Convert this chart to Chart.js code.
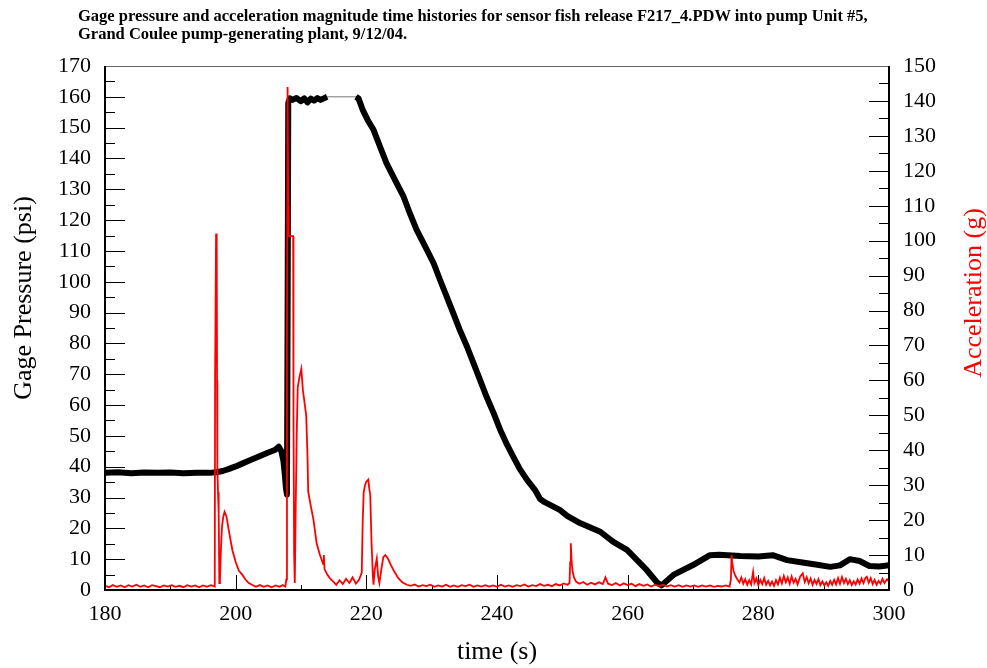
<!DOCTYPE html>
<html>
<head>
<meta charset="utf-8">
<script src="https://cdn.jsdelivr.net/npm/chart.js@4.4.1/dist/chart.umd.min.js"></script>
<style>
  body { margin: 0; background: #fff; }
  #wrap { position: relative; width: 987px; height: 668px; }
  #title {
    position: absolute; left: 78px; top: 7px;
    font: bold 16.5px 'Liberation Serif', 'Times New Roman', serif;
    line-height: 18px; color: #000; white-space: nowrap;
  }
</style>
</head>
<body>
<div id="wrap">
  <canvas id="chart" width="987" height="668"></canvas>
  <div id="title">Gage pressure and acceleration magnitude time histories for sensor fish release F217_4.PDW into pump Unit #5,<br>Grand Coulee pump-generating plant, 9/12/04.</div>
</div>
<script>
// gage pressure (psi), black trace; null = saturated stretch drawn separately
const pressureTime = [180, 182, 184, 186, 188, 190, 192, 194, 196, 197, 198, 199, 200, 201, 202, 203, 204, 205, 206, 206.6,
  207.0, 207.3, 207.5, 207.7, 207.85, 207.95, 208.05, 208.3, 208.7, 209.3, 210, 210.5, 211, 211.5, 212, 212.5, 213, 213.5, 214,
  216, 218.4, 218.8, 219.5, 220.2, 221.1, 222.1, 223.1, 224.4, 225.7, 226.7, 227.7, 229, 230.3, 231.3, 232.3, 233.3, 234.3,
  235.4, 236.4, 237.4, 238.4, 239.5, 240.5, 241.5, 242.5, 243.5, 244.6, 245.8, 246.6, 247.3, 249.6, 250.8, 252.7, 255.8,
  257.8, 259.9, 262.9, 264.6, 265.2, 267, 270, 272.6, 274, 277.2, 280, 282.2, 284.4, 286.5, 289, 291, 292.5, 294, 295.5,
  297, 298.5, 300];
const pressurePsi = [38, 38.2, 37.9, 38.1, 38, 38.1, 37.9, 38, 38, 38.2, 38.6, 39.3, 40.1, 41, 41.9, 42.8, 43.7, 44.6, 45.4, 46.5,
  45, 42, 38, 33, 31, 90, 158, 159.5, 159, 159.6, 158.6, 159.5, 158.2, 159.4, 158.8, 159.6, 159, 159.5, 160,
  null, 160, 159.5, 155.5, 152.5, 149.3, 143.8, 138.4, 133, 127.6, 122, 116.8, 111.5, 106, 100.5, 95.2, 89.8, 84.4,
  79, 73.6, 68.2, 62.7, 57.3, 51.9, 47.3, 43.2, 39.2, 35.7, 32.5, 29.5, 28.5, 26, 24, 21.7, 18.9,
  15.6, 13, 6.5, 2.2, 1.5, 4.9, 8.1, 11.3, 11.4, 11, 10.9, 11.3, 9.7, 9, 8.2, 7.5, 8, 10, 9.4,
  7.8, 7.6, 8];

// saturated pressure reading (flat, thin grey)
const satTime = [214, 218.6];
const satPsi = [160, 160];

// acceleration magnitude (g), red trace
const accelTime = [180, 180.6, 181.2, 181.8, 182.4, 183, 183.6, 184.2, 184.8, 185.4, 186, 186.6, 187.2, 187.8, 188.4, 189,
  189.6, 190.2, 190.8, 191.4, 192, 192.6, 193.2, 193.8, 194.4, 195, 195.6, 196.2, 196.7,
  196.8, 196.85, 197.0, 197.1, 197.15, 197.2, 197.3, 197.4, 197.5, 197.6, 197.75, 197.9, 198.1, 198.3, 198.6, 199.0, 199.5,
  200.0, 200.5, 201.0, 201.5, 202.0, 202.5, 203.1, 203.7, 204.3, 204.9, 205.5, 206.1, 206.7, 207.2, 207.6,
  207.75, 207.85, 207.95, 208.05, 208.12, 208.5, 208.8, 208.85, 208.95, 209.05, 209.2, 209.35, 209.5, 209.75, 210.05,
  210.3, 210.45, 210.8, 211.0, 211.1, 211.5, 211.9, 212.4, 212.9, 213.4, 213.5, 213.6, 214.0, 214.4, 214.9, 215.4, 215.9,
  216.4, 216.9, 217.4, 217.9, 218.4, 218.9, 219.3,
  219.45, 219.6, 219.8, 220.0, 220.3, 220.45, 220.6, 220.8, 221.0, 221.1, 221.3, 221.6, 221.8, 222.0, 222.3, 222.6, 222.9,
  223.3, 223.8, 224.3, 224.9, 225.5, 226.2,
  226.8, 227.4, 228, 228.6, 229.2, 229.8, 230.4, 231, 231.6, 232.2, 232.8, 233.4, 234, 234.6, 235.2, 235.8, 236.4, 237,
  237.6, 238.2, 238.8, 239.4, 240, 240.6, 241.2, 241.8, 242.4, 243, 243.6, 244.2, 244.8, 245.4, 246, 246.6, 247.2, 247.8,
  248.4, 249, 249.6, 250.2, 250.8,
  251.1, 251.2, 251.3, 251.4, 251.55, 251.8, 252.1, 252.6, 253.2, 253.8, 254.4, 255, 255.6, 256.2, 256.6, 257, 257.6,
  258.2, 258.8, 259.4, 260, 260.6, 261.2, 261.8, 262.4, 263, 263.6, 264.2, 264.8, 265.4, 266, 266.6, 267.2, 267.8, 268.4,
  269, 269.6, 270.2, 270.8, 271.4, 272, 272.6, 273.2, 273.8, 274.4, 275, 275.6,
  275.8, 275.9, 276.0, 276.2, 276.5, 276.8, 277.1, 277.4, 277.7, 278, 278.3, 278.6, 278.9, 279.2, 279.4, 279.7, 280,
  280.3, 280.6, 280.9, 281.2, 281.5, 281.8, 282.1, 282.4, 282.7, 283, 283.3, 283.6, 283.9, 284.2, 284.5, 284.8, 285.1,
  285.4, 285.7, 286, 286.4, 286.8, 287.1, 287.4, 287.7, 288, 288.3, 288.6, 288.9, 289.2, 289.5, 289.8, 290.1, 290.4,
  290.7, 291, 291.3, 291.6, 291.9, 292.2, 292.5, 292.8, 293.1, 293.4, 293.7, 294, 294.3, 294.6, 294.9, 295.2, 295.5,
  295.8, 296.1, 296.4, 296.6, 296.9, 297.2, 297.5, 297.8, 298.1, 298.4, 298.7, 299, 299.3, 299.7, 300];
const accelG = [1.2, 0.8, 1.4, 0.9, 1.3, 0.8, 1.4, 1.0, 1.5, 0.9, 1.3, 0.8, 1.4, 1.1, 0.8, 1.3,
  1.0, 1.4, 0.9, 1.2, 0.8, 1.4, 1.0, 1.3, 0.8, 1.3, 0.9, 1.4, 1.1,
  1, 60, 102, 100, 60, 35, 28, 22, 2, 3, 12, 18, 21, 22.4, 21, 16.5, 11.4,
  8, 5.5, 4.4, 3, 2, 1.5, 0.9, 1.4, 0.9, 1.3, 0.8, 1.3, 0.9, 1.4, 1.0,
  3, 70, 144, 110, 101.3, 101.3, 101.3, 50, 10, 2, 25, 45, 58, 60.8, 63.3,
  57, 54.9, 49.9, 38, 28.2, 24, 20.2, 13.3, 10, 7.4, 10, 6, 4.5, 3.4, 2.5, 1.5, 2.8,
  1.7, 3.2, 2.0, 3.6, 1.8, 3.0, 5,
  20, 28, 30, 31, 31.6, 29, 27.2, 13.3, 4, 1.5, 6, 9, 4, 2, 6, 9.4, 10,
  9, 7, 5.2, 3.4, 2.2, 1.5,
  1.2, 1.6, 1.0, 1.4, 1.1, 1.5, 0.9, 1.3, 1.0, 1.5, 0.9, 1.3, 0.9, 1.4, 1.1, 1.5, 0.9, 1.3,
  1.0, 1.4, 1.0, 1.3, 0.9, 1.5, 1.0, 1.3, 0.9, 1.4, 1.1, 1.6, 1.0, 1.4, 1.1, 1.7, 1.2, 1.5,
  1.1, 1.7, 1.3, 1.9, 1.5,
  2, 8, 13.4, 9, 5.5, 3.5, 2.4, 1.8, 2.3, 1.5, 2.1, 1.6, 2.2, 1.7, 3.6, 1.8, 1.4,
  2.0, 1.3, 1.9, 1.4, 1.8, 1.1, 1.7, 1.2, 1.6, 1.0, 1.5, 1.1, 1.5, 1.0, 1.4, 1.0, 1.4, 0.9,
  1.3, 1.0, 1.3, 0.9, 1.3, 1.0, 1.3, 0.9, 1.2, 1.0, 1.3, 1.0,
  3, 10, 8, 5.5, 4, 3, 2.2, 3.6, 1.8, 3.1, 1.5, 2.8, 1.6, 5.2, 2.0, 3.3, 1.4,
  2.9, 1.7, 3.4, 1.5, 2.6, 1.3, 2.4, 1.2, 2.8, 1.6, 3.5, 1.9, 4.0, 2.2, 3.6, 1.8, 3.9,
  2.1, 3.2, 1.6, 3.8, 4.8, 2.3, 3.7, 1.9, 3.3, 1.5, 2.9, 1.7, 3.1, 1.4, 2.5, 1.3, 2.2,
  1.2, 2.6, 1.5, 2.9, 1.6, 3.4, 1.8, 3.7, 2.0, 3.2, 1.7, 2.8, 1.4, 2.5, 1.6, 3.0, 1.8,
  3.3, 2.0, 3.5, 3.8, 2.1, 3.4, 1.7, 2.9, 1.5, 2.6, 1.8, 3.2, 2.0, 3.1, 2.4];

const xTicks = [180, 200, 220, 240, 260, 280, 300];

const FONT = "'Liberation Serif', 'Times New Roman', serif";
const pairs = (xs, ys) => xs.map((x, i) => ({ x: x, y: ys[i] }));

// inner tick marks, frame and the two vertical axis titles
const framePlugin = {
  id: 'frame',
  beforeDatasetsDraw(chart) {
    const { ctx, chartArea: a, scales } = chart;
    ctx.save();
    ctx.strokeStyle = '#000';
    ctx.lineWidth = 1;
    ctx.beginPath();
    for (let v = 0; v <= 170; v += 5) {
      const y = Math.round(scales.y.getPixelForValue(v)) + 0.5;
      ctx.moveTo(a.left, y);
      ctx.lineTo(a.left + (v % 10 === 0 ? 20 : 10), y);
    }
    for (let v = 0; v <= 150; v += 5) {
      const y = Math.round(scales.y1.getPixelForValue(v)) + 0.5;
      ctx.moveTo(a.right, y);
      ctx.lineTo(a.right - (v % 10 === 0 ? 20 : 10), y);
    }
    for (let v = 180; v <= 300; v += 10) {
      const x = Math.round(scales.x.getPixelForValue(v)) + 0.5;
      ctx.moveTo(x, a.bottom);
      ctx.lineTo(x, a.bottom - (v % 20 === 0 ? 15 : 5));
    }
    ctx.stroke();
    ctx.restore();
  },
  afterDraw(chart) {
    const { ctx, chartArea: a } = chart;
    ctx.save();
    ctx.lineWidth = 1;
    ctx.strokeStyle = '#666';
    ctx.beginPath();
    ctx.moveTo(a.left, a.top + 0.5);
    ctx.lineTo(a.right, a.top + 0.5);
    ctx.stroke();
    ctx.lineWidth = 2;
    ctx.strokeStyle = '#000';
    ctx.beginPath();
    ctx.moveTo(a.left, a.top);
    ctx.lineTo(a.left, a.bottom);
    ctx.lineTo(a.right, a.bottom);
    ctx.lineTo(a.right, a.top);
    ctx.stroke();

    ctx.font = '26px ' + FONT;
    ctx.textAlign = 'center';
    ctx.textBaseline = 'middle';
    ctx.fillStyle = '#000';
    ctx.translate(24, 298);
    ctx.rotate(-Math.PI / 2);
    ctx.fillText('Gage Pressure (psi)', 0, 0);
    ctx.rotate(Math.PI / 2);
    ctx.translate(974 - 24, 293 - 298);
    ctx.rotate(-Math.PI / 2);
    ctx.fillStyle = '#ff0000';
    ctx.fillText('Acceleration (g)', 0, 0);
    ctx.restore();
  }
};

new Chart(document.getElementById('chart'), {
  type: 'line',
  data: {
    datasets: [
      {
        label: 'Acceleration',
        data: pairs(accelTime, accelG),
        yAxisID: 'y1',
        borderColor: '#ff0000',
        borderWidth: 1.8,
        pointRadius: 0,
        order: 0
      },
      {
        label: 'Gage pressure',
        data: pairs(pressureTime, pressurePsi),
        yAxisID: 'y',
        borderColor: '#000',
        borderWidth: 6,
        borderJoinStyle: 'round',
        pointRadius: 0,
        order: 1
      },
      {
        label: 'Saturated',
        data: pairs(satTime, satPsi),
        yAxisID: 'y',
        borderColor: '#777',
        borderWidth: 1,
        pointRadius: 0,
        order: 2
      }
    ]
  },
  options: {
    responsive: false,
    animation: false,
    devicePixelRatio: 1,
    layout: { padding: { top: 66, left: 0, right: 0, bottom: 0 } },
    plugins: { legend: { display: false }, tooltip: { enabled: false } },
    scales: {
      x: {
        type: 'linear',
        min: 180,
        max: 300,
        afterBuildTicks: (scale) => { scale.ticks = xTicks.map(v => ({ value: v })); },
        afterFit: (scale) => { scale.height = 78; },
        ticks: { color: '#000', font: { family: FONT, size: 22 }, padding: 11, maxRotation: 0 },
        grid: { display: false, drawTicks: false },
        border: { display: false },
        title: { display: true, text: 'time (s)', color: '#000', font: { family: FONT, size: 26 }, padding: { top: 0, bottom: 0 } }
      },
      y: {
        position: 'left',
        min: 0,
        max: 170,
        afterFit: (scale) => { scale.width = 105; },
        ticks: { stepSize: 10, color: '#000', font: { family: FONT, size: 22 }, padding: 14 },
        grid: { display: false, drawTicks: false },
        border: { display: false }
      },
      y1: {
        position: 'right',
        min: 0,
        max: 150,
        afterFit: (scale) => { scale.width = 98; },
        ticks: { stepSize: 10, color: '#000', font: { family: FONT, size: 22 }, padding: 14 },
        grid: { display: false, drawTicks: false },
        border: { display: false }
      }
    }
  },
  plugins: [framePlugin]
});
</script>
</body>
</html>
